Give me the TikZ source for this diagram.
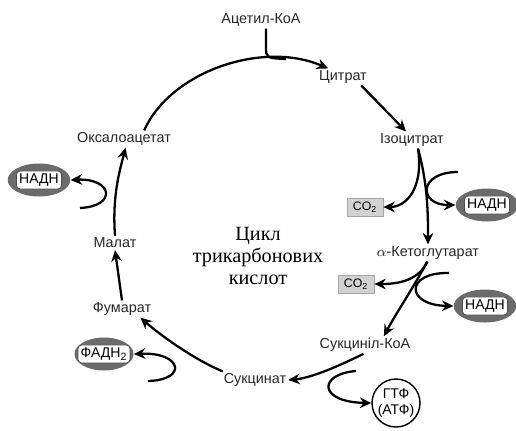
\documentclass[tikz,border=0pt]{standalone}
\usepackage{fontspec}
\setmainfont{Liberation Sans}
\newfontfamily\cyrserif{Liberation Serif}
\usetikzlibrary{arrows.meta,shapes.geometric,calc}

\begin{document}
\begin{tikzpicture}[x=0.02cm,y=-0.02cm]
  \tikzstyle{metab}=[font=\fontsize{8.2}{9}\selectfont, text=black!85, inner sep=1pt]
  \tikzstyle{arr}=[line width=1.3pt, -{Stealth[length=6.5pt,width=6pt]}]
  \tikzstyle{oval}=[ellipse, fill=black!58, minimum width=1.25cm, minimum height=0.66cm, inner sep=0pt]
  \tikzstyle{tag}=[fill=white, draw=black!70, rounded corners=2pt, inner sep=1.5pt, font=\fontsize{8}{9}\selectfont]
  \tikzstyle{gas}=[draw=gray!70, fill=gray!35, minimum width=0.72cm, minimum height=0.36cm, inner sep=0pt, font=\fontsize{7}{8}\selectfont]
  \tikzstyle{energy}=[circle, draw, line width=0.8pt, minimum size=0.96cm, inner sep=0pt, align=center, font=\fontsize{8}{9}\selectfont]
  \useasboundingbox (0,0) rectangle (516,430);

  % metabolites
  \node[metab] (acetyl) at (261,20) {Ацетил-КоА};
  \node[metab] (citrate) at (343,77) {Цитрат};
  \node[metab] (isocit) at (412,140) {Ізоцитрат};
  \node[metab] (akg) at (428,253) {$\alpha$-Кетоглутарат};
  \node[metab] (succoa) at (365,345) {Сукциніл-КоА};
  \node[metab] (succ) at (255,380) {Сукцинат};
  \node[metab] (fum) at (122,309) {Фумарат};
  \node[metab] (mal) at (115,243) {Малат};
  \node[metab] (oxa) at (124,139) {Оксалоацетат};
  \node[font=\cyrserif\fontsize{11.5}{12.5}\selectfont, align=center] (cycle) at (258,256) {Цикл\\трикарбонових\\кислот};

  % side products
  \node[gas] (co2a) at (365,207) {CO\textsubscript{2}};
  \node[gas] (co2b) at (356,284) {CO\textsubscript{2}};
  \node[oval] (nadhA) at (487,205) {};
  \node[tag] at (nadhA) {НАДН};
  \node[oval] (nadhB) at (485,306) {};
  \node[tag] at (nadhB) {НАДН};
  \node[oval] (nadhC) at (39,180) {};
  \node[tag] at (nadhC) {НАДН};
  \node[oval, minimum width=1.18cm] (fadh) at (104,354) {};
  \node[tag] at (fadh) {ФАДН\textsubscript{2}};
  \node[energy] (gtp) at (396,403) {ГТФ\\(АТФ)};

  \coordinate (nadinA) at (458,172);
  \coordinate (nadinB) at (449,273);
  \coordinate (gtpin) at (356,371);
  \coordinate (fadin) at (148,381);
  \coordinate (nadinC) at (80,208);

  % the cycle
  \draw[arr] (oxa.23) .. controls (170,72) and (262,40) .. (citrate.150);
  \draw[line width=1.3pt] ($(acetyl.south)+(5,0)$) -- ++(0,18) .. controls (266,58) .. (286,59);
  \draw[arr] (citrate.-25) -- (isocit.125);
  \draw[arr] (isocit.-55) .. controls (428,185) and (428,215) .. (akg.north);
  \draw[arr] (isocit.-55) .. controls (424,190) and (405,207) .. (co2a.east);
  \draw[arr] (nadinA) .. controls (418,172) and (418,205) .. (nadhA.west);
  \draw[arr] (akg.-95) .. controls (415,285) and (395,315) .. (succoa.25);
  \draw[arr] (akg.-95) .. controls (418,282) and (395,284) .. (co2b.east);
  \draw[arr] (nadinB) .. controls (405,272) and (405,305) .. (nadhB.west);
  \draw[arr] (succoa.-100) .. controls (335,368) and (310,378) .. (succ.east);
  \draw[arr] (gtpin) .. controls (318,374) and (318,402) .. (gtp.west);
  \draw[arr] (succ.165) .. controls (195,360) and (160,335) .. (fum.-25);
  \draw[arr] (fadin) .. controls (188,380) and (182,352) .. (fadh.east);
  \draw[arr] (fum.north) -- (mal.south);
  \draw[arr] (mal.north) .. controls (112,195) and (120,170) .. (oxa.-80);
  \draw[arr] (nadinC) .. controls (118,206) and (112,178) .. (nadhC.east);
\end{tikzpicture}
\end{document}
